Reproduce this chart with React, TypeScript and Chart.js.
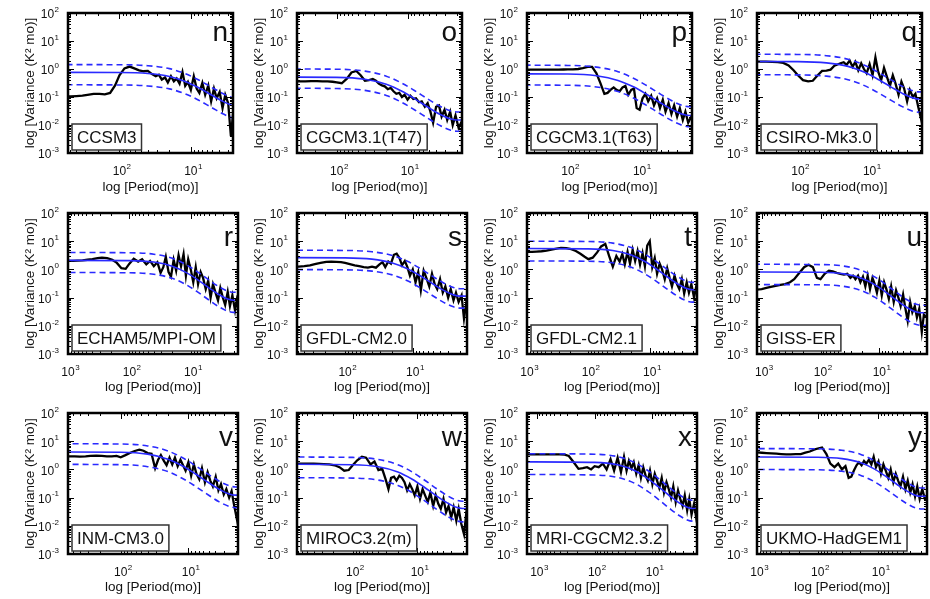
import React, { useEffect, useRef } from "react";
import { Chart, registerables } from "chart.js";

Chart.register(...registerables);

const FONT = '"Liberation Sans", Arial, Helvetica, sans-serif';
const BLUE = "#2a2aff";

// Shared period grid (months) for the black spectra
const periods = [
  1500, 1250, 1000, 830, 700, 580, 480, 400, 330, 280,
  230, 190, 160, 135, 115, 100, 85, 72, 62, 53,
  46, 40, 35, 31, 28, 25.5, 23, 21, 19, 17.3,
  15.8, 14.4, 13.1, 12, 11, 10, 9.1, 8.3, 7.6, 6.9,
  6.3, 5.7, 5.2, 4.75, 4.35, 3.95, 3.6, 3.3, 3.0, 2.75,
  2.5, 2.3, 2.1, 1.9, 1.75, 1.6,
];
// Period grid for the red-noise fit and its bounds
const fitPeriods = [2000, 100, 40, 20, 12, 8, 5, 3.5, 2.5, 2, 1.5];

const yTickExponents = [-3, -2, -1, 0, 1, 2];
const xTickExponents = [0, 1, 2, 3];

// ---- spectra (variance, K^2 mo) ----
const specN = [
  0.105, 0.105, 0.105, 0.105, 0.105, 0.105, 0.105, 0.108, 0.112, 0.12,
  0.13, 0.13, 0.125, 0.14, 0.26, 0.6, 1.05, 1.22, 1.05, 0.9,
  0.83, 0.86, 0.66, 0.55, 0.62, 0.42, 0.5, 0.33, 0.55, 0.36,
  0.46, 0.3, 0.78, 0.25, 0.35, 0.18, 0.55, 0.2, 0.14, 0.32,
  0.12, 0.26, 0.07, 0.2, 0.09, 0.15, 0.04, 0.12, 0.06, 0.004,
  0.05, 0.05, 0.05, 0.05, 0.05, 0.05,
];
const specO = [
  0.36, 0.36, 0.36, 0.36, 0.36, 0.36, 0.36, 0.36, 0.36, 0.36,
  0.37, 0.37, 0.36, 0.36, 0.35, 0.33, 0.31, 0.45, 0.75, 0.85,
  0.6, 0.38, 0.4, 0.44, 0.38, 0.3, 0.26, 0.24, 0.19, 0.21,
  0.16, 0.13, 0.14, 0.1, 0.12, 0.08, 0.11, 0.085, 0.09, 0.065,
  0.07, 0.045, 0.06, 0.03, 0.012, 0.045, 0.05, 0.02, 0.035, 0.015,
  0.03, 0.01, 0.022, 0.008, 0.012, 0.006,
];
const specP = [
  0.95, 0.95, 0.95, 0.95, 0.95, 0.95, 0.95, 0.95, 0.95, 0.95,
  0.95, 0.95, 0.95, 0.95, 0.96, 0.97, 0.97, 1.0, 1.08, 1.2,
  1.2, 0.7, 0.3, 0.13, 0.14, 0.18, 0.22, 0.18, 0.16, 0.22,
  0.25, 0.12, 0.18, 0.2, 0.04, 0.035, 0.09, 0.13, 0.07, 0.11,
  0.05, 0.09, 0.04, 0.08, 0.03, 0.06, 0.025, 0.05, 0.02, 0.04,
  0.015, 0.03, 0.012, 0.02, 0.012, 0.012,
];
const specQ = [
  1.82, 1.82, 1.82, 1.82, 1.82, 1.82, 1.82, 1.82, 1.82, 1.82,
  1.8, 1.75, 1.65, 1.35, 0.9, 0.6, 0.4, 0.36, 0.38, 0.6,
  0.85, 0.88, 0.95, 1.3, 1.45, 1.6, 1.75, 1.4, 2.0, 1.2,
  1.8, 0.9, 1.6, 1.0, 0.7, 1.5, 0.6, 2.6, 0.8, 0.4,
  1.1, 0.5, 0.25, 0.6, 0.3, 0.12, 0.35, 0.2, 0.07, 0.18,
  0.1, 0.13, 0.045, 0.015, 0.06, 0.06,
];
const specR = [
  2.0, 2.0, 2.0, 2.0, 2.05, 2.1, 2.2, 2.3, 2.5, 2.6,
  2.5, 2.2, 1.7, 1.1, 1.05, 1.6, 2.4, 1.9, 2.3, 1.5,
  2.0, 1.3, 1.8, 0.75, 1.2, 2.8, 0.8, 0.55, 2.2, 0.9,
  3.2, 1.3, 3.5, 0.6, 2.3, 1.0, 0.35, 1.2, 0.3, 0.8,
  0.5, 0.2, 0.4, 0.1, 0.3, 0.15, 0.08, 0.22, 0.1, 0.055,
  0.16, 0.05, 0.12, 0.035, 0.1, 0.08,
];
const specS = [
  1.25, 1.25, 1.25, 1.25, 1.25, 1.25, 1.25, 1.3, 1.4, 1.55,
  1.7, 1.85, 1.9, 1.85, 1.8, 1.7, 1.55, 1.4, 1.3, 1.2,
  1.15, 1.25, 1.15, 1.5, 1.8, 1.2, 1.9, 1.6, 3.3, 3.6,
  2.6, 1.4, 2.0, 1.2, 0.6, 1.0, 0.35, 0.8, 0.18, 0.9,
  0.5, 0.25, 0.7, 0.3, 0.2, 0.45, 0.15, 0.25, 0.1, 0.2,
  0.08, 0.15, 0.07, 0.12, 0.018, 0.08,
];
const specT = [
  4.2, 4.2, 4.2, 4.2, 4.3, 4.4, 4.6, 5.0, 5.5, 5.8,
  5.7, 5.2, 4.5, 3.6, 2.8, 2.3, 2.6, 4.0, 6.5, 8.0,
  3.0, 1.25, 3.0, 1.9, 3.5, 1.5, 4.2, 1.6, 5.0, 2.0,
  4.5, 1.5, 3.8, 1.3, 7.0, 10.0, 1.2, 2.5, 0.7, 1.6,
  1.0, 0.45, 1.1, 0.5, 0.25, 0.6, 0.3, 0.2, 0.45, 0.14,
  0.35, 0.15, 0.3, 0.1, 0.25, 0.15,
];
const specU = [
  0.19, 0.19, 0.2, 0.22, 0.24, 0.26, 0.28, 0.3, 0.35, 0.45,
  0.75, 1.2, 1.45, 1.2, 0.5, 0.45, 0.7, 0.9, 0.85, 0.75,
  0.7, 0.65, 0.7, 0.5, 0.6, 0.45, 0.6, 0.35, 0.55, 0.25,
  0.6, 0.2, 0.5, 0.3, 0.15, 0.4, 0.12, 0.35, 0.2, 0.09,
  0.25, 0.07, 0.18, 0.1, 0.05, 0.13, 0.04, 0.015, 0.07, 0.03,
  0.05, 0.02, 0.04, 0.006, 0.025, 0.02,
];
const specV = [
  2.9, 2.9, 2.9, 2.9, 2.9, 2.9, 2.9, 2.85, 2.9, 3.0,
  3.1, 3.0, 2.9, 2.9, 3.0, 2.7, 3.2, 3.9, 4.5, 5.0,
  4.6, 3.8, 3.6, 1.1, 2.2, 3.2, 2.0, 1.4, 2.6, 1.5,
  2.6, 1.3, 2.2, 1.4, 0.9, 1.8, 0.6, 1.5, 0.7, 0.45,
  1.1, 0.35, 0.8, 0.4, 0.25, 0.55, 0.18, 0.3, 0.13, 0.2,
  0.1, 0.17, 0.05, 0.015, 0.12, 0.08,
];
const specW = [
  1.6, 1.6, 1.6, 1.6, 1.6, 1.6, 1.6, 1.6, 1.58, 1.55,
  1.5, 1.4, 1.2, 0.9, 0.95, 1.4, 2.1, 2.8, 2.6, 1.5,
  1.9, 0.95, 1.05, 0.45, 0.2, 0.5, 0.55, 0.4, 0.6, 0.5,
  0.35, 0.18, 0.3, 0.2, 0.12, 0.25, 0.09, 0.2, 0.12, 0.07,
  0.15, 0.05, 0.12, 0.06, 0.04, 0.09, 0.03, 0.05, 0.02, 0.045,
  0.015, 0.04, 0.012, 0.005, 0.03, 0.025,
];
const specX = [
  3.4, 3.4, 3.4, 3.4, 3.4, 3.4, 3.4, 3.4, 3.35, 3.0,
  1.8, 1.05, 1.1, 1.2, 1.0, 1.3, 1.2, 1.6, 1.0, 2.3,
  0.9, 2.6, 0.8, 2.8, 0.9, 2.0, 1.1, 1.8, 0.7, 1.4,
  0.5, 1.2, 0.6, 0.4, 0.9, 0.3, 0.7, 0.4, 0.22, 0.5,
  0.15, 0.35, 0.2, 0.1, 0.25, 0.07, 0.18, 0.09, 0.05, 0.12,
  0.035, 0.09, 0.025, 0.06, 0.02, 0.04,
];
const specY = [
  4.0, 4.0, 4.0, 3.9, 3.8, 3.7, 3.6, 3.5, 3.4, 3.4,
  3.5, 3.5, 3.9, 4.3, 5.0, 5.5, 6.0, 3.5, 1.6, 1.2,
  1.6, 1.0, 1.3, 0.5, 0.55, 0.9, 1.4, 1.8, 1.4, 2.0,
  1.6, 2.2, 1.5, 2.8, 1.2, 1.9, 0.7, 1.5, 0.9, 0.5,
  1.0, 0.35, 0.7, 0.4, 0.25, 0.55, 0.2, 0.4, 0.15, 0.3,
  0.11, 0.25, 0.09, 0.2, 0.1, 0.12,
];

// ---- red-noise fit, upper and lower bounds ----
const fitN = [0.76, 0.748, 0.69, 0.541, 0.36, 0.222, 0.113, 0.0682, 0.0475, 0.0432, 0.0432];
const upN = [1.44, 1.42, 1.31, 1.03, 0.684, 0.421, 0.214, 0.13, 0.0903, 0.0821, 0.0821];
const loN = [0.274, 0.269, 0.248, 0.195, 0.13, 0.0799, 0.0407, 0.0246, 0.0171, 0.0156, 0.0156];
const fitO = [0.52, 0.503, 0.431, 0.285, 0.16, 0.0878, 0.0412, 0.0242, 0.0166, 0.015, 0.015];
const upO = [1.01, 0.981, 0.84, 0.556, 0.312, 0.171, 0.0803, 0.0472, 0.0324, 0.0293, 0.0293];
const loO = [0.208, 0.201, 0.172, 0.114, 0.064, 0.0351, 0.0165, 0.0097, 0.0066, 0.006, 0.006];
const fitP = [0.68, 0.66, 0.574, 0.392, 0.226, 0.126, 0.0598, 0.0352, 0.0242, 0.0219, 0.0219];
const upP = [1.38, 1.34, 1.17, 0.8, 0.46, 0.257, 0.122, 0.0718, 0.0494, 0.0447, 0.0447];
const loP = [0.27, 0.262, 0.228, 0.156, 0.09, 0.05, 0.0238, 0.014, 0.0096, 0.0087, 0.0087];
const fitQ = [1.88, 1.84, 1.66, 1.24, 0.777, 0.458, 0.226, 0.135, 0.093, 0.0847, 0.0847];
const upQ = [3.38, 3.31, 2.99, 2.23, 1.4, 0.824, 0.407, 0.243, 0.167, 0.152, 0.152];
const loQ = [0.63, 0.616, 0.556, 0.415, 0.26, 0.153, 0.0757, 0.0452, 0.0312, 0.0284, 0.0284];
const fitR = [2.1, 2.05, 1.82, 1.3, 0.785, 0.451, 0.218, 0.129, 0.089, 0.0808, 0.0808];
const upR = [3.99, 3.9, 3.46, 2.47, 1.49, 0.857, 0.414, 0.245, 0.169, 0.154, 0.154];
const loR = [0.777, 0.759, 0.673, 0.481, 0.29, 0.167, 0.0807, 0.0477, 0.0329, 0.0299, 0.0299];
const fitS = [2.63, 2.57, 2.31, 1.7, 1.057, 0.619, 0.303, 0.18, 0.125, 0.113, 0.113];
const upS = [4.81, 4.7, 4.23, 3.11, 1.93, 1.13, 0.554, 0.329, 0.229, 0.207, 0.207];
const loS = [0.99, 0.966, 0.869, 0.639, 0.397, 0.233, 0.114, 0.0677, 0.047, 0.0425, 0.0425];
const fitT = [5.5, 5.35, 4.69, 3.26, 1.91, 1.078, 0.515, 0.304, 0.209, 0.19, 0.19];
const upT = [10.0, 9.74, 8.54, 5.93, 3.48, 1.96, 0.937, 0.553, 0.38, 0.346, 0.346];
const loT = [2.0, 1.95, 1.71, 1.19, 0.695, 0.392, 0.187, 0.111, 0.076, 0.069, 0.069];
const fitU = [0.81, 0.789, 0.695, 0.488, 0.288, 0.164, 0.0784, 0.0463, 0.0319, 0.0289, 0.0289];
const upU = [1.52, 1.48, 1.31, 0.917, 0.541, 0.308, 0.147, 0.087, 0.06, 0.0543, 0.0543];
const loU = [0.29, 0.284, 0.25, 0.176, 0.104, 0.059, 0.0282, 0.0167, 0.0115, 0.0104, 0.0104];
const fitV = [4.2, 4.07, 3.48, 2.31, 1.3, 0.713, 0.335, 0.196, 0.135, 0.122, 0.122];
const upV = [8.19, 7.94, 6.79, 4.5, 2.53, 1.39, 0.653, 0.382, 0.263, 0.238, 0.238];
const loV = [1.51, 1.47, 1.25, 0.832, 0.467, 0.257, 0.121, 0.0706, 0.0486, 0.0439, 0.0439];
const fitW = [1.52, 1.47, 1.244, 0.809, 0.446, 0.242, 0.113, 0.0661, 0.0452, 0.0411, 0.0411];
const upW = [2.75, 2.66, 2.25, 1.46, 0.807, 0.438, 0.205, 0.12, 0.0818, 0.0744, 0.0744];
const loW = [0.51, 0.492, 0.417, 0.271, 0.149, 0.0811, 0.0379, 0.0221, 0.0151, 0.0138, 0.0138];
const fitX = [1.85, 1.77, 1.456, 0.891, 0.468, 0.249, 0.114, 0.0663, 0.0453, 0.0411, 0.0411];
const upX = [3.61, 3.45, 2.84, 1.74, 0.913, 0.486, 0.222, 0.129, 0.0883, 0.0801, 0.0801];
const loX = [0.66, 0.632, 0.52, 0.318, 0.167, 0.0889, 0.0407, 0.0237, 0.0162, 0.0147, 0.0147];
const fitY = [2.77, 2.71, 2.41, 1.745, 1.062, 0.614, 0.298, 0.177, 0.122, 0.111, 0.111];
const upY = [5.48, 5.37, 4.77, 3.46, 2.1, 1.22, 0.59, 0.35, 0.242, 0.22, 0.22];
const loY = [0.99, 0.967, 0.86, 0.623, 0.379, 0.219, 0.106, 0.0632, 0.0436, 0.0396, 0.0396];

const panelLetters = ["n", "o", "p", "q", "r", "s", "t", "u", "v", "w", "x", "y"];
const modelNames = [
  "CCSM3", "CGCM3.1(T47)", "CGCM3.1(T63)", "CSIRO-Mk3.0",
  "ECHAM5/MPI-OM", "GFDL-CM2.0", "GFDL-CM2.1", "GISS-ER",
  "INM-CM3.0", "MIROC3.2(m)", "MRI-CGCM2.3.2", "UKMO-HadGEM1",
];
const periodMin = [2.57, 1.7, 1.86, 1.86, 1.7, 1.58, 1.7, 1.55, 1.85, 1.71, 1.69, 1.59];
const periodMax = [525, 365, 372, 372, 1000, 513, 1000, 1200, 600, 725, 1480, 1000];

const spectra = [specN, specO, specP, specQ, specR, specS, specT, specU, specV, specW, specX, specY];
const fits = [fitN, fitO, fitP, fitQ, fitR, fitS, fitT, fitU, fitV, fitW, fitX, fitY];
const uppers = [upN, upO, upP, upQ, upR, upS, upT, upU, upV, upW, upX, upY];
const lowers = [loN, loO, loP, loQ, loR, loS, loT, loU, loV, loW, loX, loY];

// ---- layout ----
const COL_LEFT = [68, 297, 527, 757];
const ROW_TOP = [13, 213, 413];
const ROW_W = [165, 170, 170];
const ROW_H = [140, 141, 141];
const Y_AXIS_W = 68;
const PAD_TOP = 13;
const PAD_RIGHT = 8;
const CANVAS_H = 200;

function drawPow(ctx: CanvasRenderingContext2D, e: number, x: number, y: number, mode: "right" | "center") {
  ctx.fillStyle = "#111";
  ctx.textBaseline = "middle";
  ctx.textAlign = "left";
  ctx.font = `12px ${FONT}`;
  const wb = ctx.measureText("10").width;
  const es = String(e);
  ctx.font = `8px ${FONT}`;
  const we = ctx.measureText(es).width;
  const x0 = mode === "right" ? x - wb - we - 0.5 : x - wb / 2;
  ctx.font = `12px ${FONT}`;
  ctx.fillText("10", x0, y);
  ctx.font = `8px ${FONT}`;
  ctx.fillText(es, x0 + wb + 0.5, y - 5.5);
}

const decorPlugin = {
  id: "decor",
  afterDraw(chart: any, _args: any, opts: any) {
    const { ctx, chartArea: a, scales } = chart;
    const xs = scales.x;
    const ys = scales.y;
    ctx.save();
    // inward ticks on all four sides
    ctx.strokeStyle = "#000";
    ctx.lineWidth = 1;
    ctx.beginPath();
    for (const e of yTickExponents) {
      for (let m = 1; m <= 9; m++) {
        const v = m * Math.pow(10, e);
        if (v < ys.min * 0.999 || v > ys.max * 1.001) continue;
        const y = Math.round(ys.getPixelForValue(v)) + 0.5;
        const len = m === 1 ? 6 : 3;
        ctx.moveTo(a.left, y);
        ctx.lineTo(a.left + len, y);
        ctx.moveTo(a.right, y);
        ctx.lineTo(a.right - len, y);
      }
    }
    for (const e of xTickExponents) {
      for (let m = 1; m <= 9; m++) {
        const v = m * Math.pow(10, e);
        if (v < xs.min || v > xs.max) continue;
        const x = Math.round(xs.getPixelForValue(v)) + 0.5;
        const len = m === 1 ? 6 : 3;
        ctx.moveTo(x, a.bottom);
        ctx.lineTo(x, a.bottom - len);
        ctx.moveTo(x, a.top);
        ctx.lineTo(x, a.top + len);
      }
    }
    ctx.stroke();
    // frame
    ctx.lineWidth = 2.5;
    ctx.strokeRect(a.left, a.top, a.right - a.left, a.bottom - a.top);
    // tick labels
    for (const e of yTickExponents) {
      const y = ys.getPixelForValue(Math.pow(10, e));
      drawPow(ctx, e, a.left - 9, y + 2, "right");
    }
    for (const e of xTickExponents) {
      const v = Math.pow(10, e);
      if (v < xs.min || v > xs.max * 1.06) continue;
      const x = xs.getPixelForValue(Math.min(v, xs.max));
      drawPow(ctx, e, x, a.bottom + 19, "center");
    }
    // model name box
    ctx.font = `${opts.nameSize}px ${FONT}`;
    const tw = ctx.measureText(opts.name).width;
    const bh = 26;
    const bx = a.left + 4;
    const by = a.bottom - 3 - bh;
    const bw = tw + 10;
    ctx.fillStyle = "#fff";
    ctx.fillRect(bx, by, bw, bh);
    ctx.strokeStyle = "#333";
    ctx.lineWidth = 1.5;
    ctx.strokeRect(bx, by, bw, bh);
    ctx.fillStyle = "#111";
    ctx.textAlign = "left";
    ctx.textBaseline = "alphabetic";
    ctx.fillText(opts.name, bx + 5, by + bh - 7);
    // panel letter
    ctx.font = `28px ${FONT}`;
    ctx.textAlign = "right";
    ctx.fillText(opts.letter, a.right - 5, a.top + opts.letterDy);
    ctx.restore();
  },
};

function Panel({ idx }: { idx: number }) {
  const ref = useRef<HTMLCanvasElement>(null);
  const row = Math.floor(idx / 4);
  const col = idx % 4;
  const plotW = ROW_W[row];
  const plotH = ROW_H[row];
  const canvasW = Y_AXIS_W + plotW + PAD_RIGHT;

  useEffect(() => {
    const specPts = periods.map((p, i) => ({ x: p, y: spectra[idx][i] }));
    const fitPts = fitPeriods.map((p, i) => ({ x: p, y: fits[idx][i] }));
    const upPts = fitPeriods.map((p, i) => ({ x: p, y: uppers[idx][i] }));
    const loPts = fitPeriods.map((p, i) => ({ x: p, y: lowers[idx][i] }));
    const xH = CANVAS_H - PAD_TOP - plotH;
    const chart = new Chart(ref.current as HTMLCanvasElement, {
      type: "line",
      data: {
        datasets: [
          { label: "fit", data: fitPts, borderColor: BLUE, borderWidth: 1.6, pointRadius: 0, cubicInterpolationMode: "monotone", fill: false },
          { label: "upper", data: upPts, borderColor: BLUE, borderWidth: 1.6, borderDash: [6, 4], pointRadius: 0, cubicInterpolationMode: "monotone", fill: false },
          { label: "lower", data: loPts, borderColor: BLUE, borderWidth: 1.6, borderDash: [6, 4], pointRadius: 0, cubicInterpolationMode: "monotone", fill: false },
          { label: "spectrum", data: specPts, borderColor: "#000", borderWidth: 2.3, pointRadius: 0, tension: 0, fill: false },
        ],
      } as any,
      options: {
        animation: false,
        responsive: false,
        devicePixelRatio: 1,
        events: [],
        layout: { padding: { top: PAD_TOP, right: PAD_RIGHT, left: 0, bottom: 0 } },
        plugins: {
          legend: { display: false },
          tooltip: { enabled: false },
          decor: {
            name: modelNames[idx],
            letter: panelLetters[idx],
            nameSize: 17,
            letterDy: row === 0 ? 28 : 33,
          },
        } as any,
        scales: {
          x: {
            type: "logarithmic",
            reverse: true,
            min: periodMin[idx],
            max: periodMax[idx],
            position: "bottom",
            grid: { display: false },
            border: { display: false },
            ticks: { display: false },
            title: {
              display: true,
              text: "log [Period(mo)]",
              color: "#111",
              font: { size: 13.5, family: FONT },
              padding: { top: 0, bottom: 5 },
            },
            afterFit: (s: any) => {
              s.height = xH;
            },
          },
          y: {
            type: "logarithmic",
            min: 0.001,
            max: 100,
            position: "left",
            grid: { display: false },
            border: { display: false },
            ticks: { display: false },
            title: {
              display: true,
              text: "log [Variance (K² mo)]",
              color: "#111",
              font: { size: 13.5, family: FONT },
              padding: { top: 22, bottom: 0 },
            },
            afterFit: (s: any) => {
              s.width = Y_AXIS_W;
            },
          },
        } as any,
      },
      plugins: [decorPlugin as any],
    });
    return () => chart.destroy();
  }, [idx, plotH]);

  return (
    <canvas
      ref={ref}
      width={canvasW}
      height={CANVAS_H}
      style={{
        position: "absolute",
        left: COL_LEFT[col] - Y_AXIS_W,
        top: ROW_TOP[row] - PAD_TOP,
        width: canvasW,
        height: CANVAS_H,
      }}
    />
  );
}

export default function App() {
  return (
    <div style={{ position: "absolute", left: 0, top: 0, width: 930, height: 599, background: "#fff", overflow: "hidden" }}>
      {panelLetters.map((_, i) => (
        <Panel key={i} idx={i} />
      ))}
    </div>
  );
}
